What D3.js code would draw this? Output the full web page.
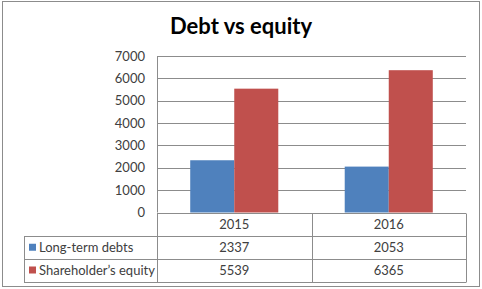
<!DOCTYPE html>
<html>
<head>
<meta charset="utf-8">
<script src="https://cdn.jsdelivr.net/npm/d3@7"></script>
<style>
  body { margin: 0; background: #fff; }
  svg text { font-family: Lato, "Liberation Sans", sans-serif; fill: #404040; }
</style>
</head>
<body>
<div id="chart"></div>
<script>
// Chart data
const years = ["2015", "2016"];
const seriesNames = ["Long-term debts", "Shareholder\u2019s equity"];
const debts = [2337, 2053];
const equity = [5539, 6365];
const yTicks = [0, 1000, 2000, 3000, 4000, 5000, 6000, 7000];
const colors = ["#4F81BD", "#C0504D"];

const values = [debts, equity];

const svg = d3
    .select("#chart")
    .append("svg")
    .attr("width", 482)
    .attr("height", 289);

// outer frame
svg.append("rect")
    .attr("x", 2.5)
    .attr("y", 1.5)
    .attr("width", 477)
    .attr("height", 285)
    .attr("fill", "#fff")
    .attr("stroke", "#8c8c8c");

// title
svg.append("text")
    .attr("x", 241)
    .attr("y", 34)
    .attr("text-anchor", "middle")
    .style("font-size", "22px")
    .style("font-weight", "bold")
    .style("fill", "#000")
    .text("Debt vs equity");

const plotLeft = 157, plotRight = 466, plotTop = 56, plotBottom = 212.5;

const x0 = d3.scaleBand()
    .domain(years)
    .range([plotLeft, plotRight])
    .paddingInner(0.43)
    .paddingOuter(0.215);

const x1 = d3.scaleBand()
    .domain(d3.range(seriesNames.length))
    .range([0, x0.bandwidth()]);

const y = d3.scaleLinear()
    .domain([0, 7000])
    .range([plotBottom, plotTop]);

// gridlines
svg.append("g")
    .selectAll("line")
    .data(yTicks)
    .enter()
    .append("line")
    .attr("x1", plotLeft)
    .attr("x2", plotRight)
    .attr("y1", (d) => Math.round(y(d)) + 0.5)
    .attr("y2", (d) => Math.round(y(d)) + 0.5)
    .attr("stroke", "#8c8c8c");

// left axis line
svg.append("line")
    .attr("x1", plotLeft + 0.5)
    .attr("x2", plotLeft + 0.5)
    .attr("y1", plotTop)
    .attr("y2", plotBottom)
    .attr("stroke", "#8c8c8c");

// y tick labels
svg.append("g")
    .selectAll("text")
    .data(yTicks)
    .enter()
    .append("text")
    .attr("x", 145)
    .attr("y", (d) => y(d) + 4.5)
    .attr("text-anchor", "end")
    .style("font-size", "13px")
    .text((d) => d);

// bars
svg.append("g")
    .selectAll("g")
    .data(years)
    .enter()
    .append("g")
    .attr("transform", (d) => `translate(${x0(d)},0)`)
    .selectAll("rect")
    .data((d, i) => values.map((s, k) => ({ k: k, v: s[i] })))
    .enter()
    .append("rect")
    .attr("x", (d) => x1(d.k))
    .attr("y", (d) => y(d.v))
    .attr("width", x1.bandwidth())
    .attr("height", (d) => plotBottom - y(d.v))
    .attr("fill", (d) => colors[d.k]);

// data table
const tableLeft = 24, tableBottom = 281.5;
const rowEdges = [plotBottom, 236, 258.5, tableBottom];
const colEdges = [plotLeft, plotLeft + x0.step(), plotRight];
const grid = svg.append("g").attr("stroke", "#8c8c8c");

rowEdges.forEach((ry, i) => {
    grid.append("line")
        .attr("x1", i === 0 ? plotLeft : tableLeft)
        .attr("x2", plotRight)
        .attr("y1", Math.round(ry) + 0.5)
        .attr("y2", Math.round(ry) + 0.5);
});
grid.append("line")
    .attr("x1", tableLeft + 0.5).attr("x2", tableLeft + 0.5)
    .attr("y1", Math.round(rowEdges[1]) + 0.5).attr("y2", Math.round(tableBottom) + 0.5);
colEdges.forEach((cx) => {
    grid.append("line")
        .attr("x1", Math.round(cx) + 0.5).attr("x2", Math.round(cx) + 0.5)
        .attr("y1", Math.round(plotBottom) + 0.5).attr("y2", Math.round(tableBottom) + 0.5);
});

// header row: years
svg.append("g")
    .selectAll("text")
    .data(years)
    .enter()
    .append("text")
    .attr("x", (d) => x0(d) + x0.bandwidth() / 2)
    .attr("y", (rowEdges[0] + rowEdges[1]) / 2 + 4.5)
    .attr("text-anchor", "middle")
    .style("font-size", "13px")
    .text((d) => d);

// series rows
seriesNames.forEach((name, k) => {
    const cy = (rowEdges[k + 1] + rowEdges[k + 2]) / 2;
    svg.append("rect")
        .attr("x", 29)
        .attr("y", cy - 3.5)
        .attr("width", 7)
        .attr("height", 7)
        .attr("fill", colors[k]);
    svg.append("text")
        .attr("x", 39)
        .attr("y", cy + 4.5)
        .style("font-size", "13px")
        .text(name);
    svg.append("g")
        .selectAll("text")
        .data(values[k])
        .enter()
        .append("text")
        .attr("x", (d, i) => x0(years[i]) + x0.bandwidth() / 2)
        .attr("y", cy + 4.5)
        .attr("text-anchor", "middle")
        .style("font-size", "13px")
        .text((d) => d);
});
</script>
</body>
</html>
